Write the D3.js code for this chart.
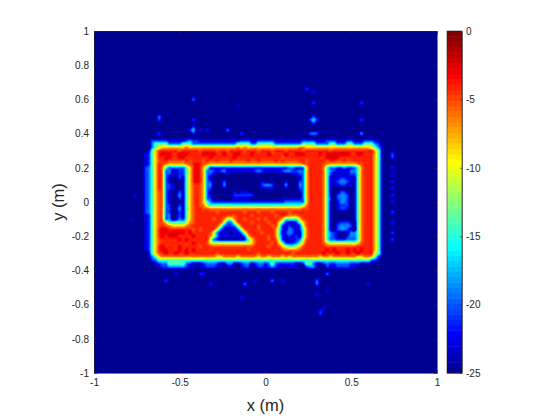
<!DOCTYPE html>
<html>
<head>
<meta charset="utf-8">
<script src="https://cdn.jsdelivr.net/npm/d3@7"></script>
<style>
    html, body { margin: 0; padding: 0; background: #fff; }
    text { font-family: "Liberation Sans", Arial, sans-serif; fill: #262626; }
</style>
</head>
<body>
<div class="plot"></div>
<script>
"use strict";

const xTicks = [-1, -0.5, 0, 0.5, 1];
const yTicks = [-1, -0.8, -0.6, -0.4, -0.2, 0, 0.2, 0.4, 0.6, 0.8, 1];
const barTicks = [0, -5, -10, -15, -20, -25];

// dB levels of the characters used in gridRows
const levelChars = [".", "1", "2", "3", "4", "5", "6", "7", "8", "9", "a"];
const levelDb = [-25, -23, -21, -19, -14, -11, -8.5, -6.5, -5.2, -4.2, -2.8];

// 0.02 m per char. first char x = -0.72, first row y = 0.36
const gridLeft = -0.72;
const gridTop = 0.36;
const gridRows = [
    "...2222211 1112322111 1111111112 2211222221 1111111222 2111222111 2211122211 ...",
    "...3444433 3344433333 3333333344 4433444443 3333333444 4333344333 4433344432 ...",
    "...3456666 6667666666 6666666676 7666666666 6666667766 6666666666 6666666543 1..",
    "..14689999 9899999899 9989989999 8999899989 9989999899 9999989999 9999999964 1..",
    ".12469aaa9 9aaa9999aa aa99a99aa9 99a9999a99 99a99aaa99 99a9aaaaaa a99aa99964 1..",
    ".124699aa9 9aa9999999 a999999a99 9999999999 9899999999 9999aaaa99 9999999964 1..",
    ".124689988 8889899989 8898889888 8988988889 8988889989 9999899889 8899999964 1..",
    ".124698766 666789a987 6666666666 6666666666 6666666789 9998766666 6667899964 1..",
    ".234697433 333469a964 2222222222 2222222222 2223322369 9997433223 2234799964 1..",
    ".234697331 122469a963 3212311111 1112321111 1233223369 9997432111 1334799964 1..",
    ".234697321 122469a963 21...1.... .......... ....112369 9997421111 1224799964 1..",
    ".23469731. .21469a963 1......... .......... ......1369 9997411122 1114799964 1..",
    ".23469731. ..1469a963 2...2..... .....1.... ..1...2369 9997411233 2114799964 1..",
    ".234697321 ..14689863 3...3..... .....2332. ..3...3369 9997411122 1114799964 1..",
    ".234697321 ..14689863 2...1..... .....1111. ..1...2369 999741.... ..14799964 1..",
    ".23468731. .214689863 1......1.1 11........ ......1369 999741..22 ..14799964 1..",
    ".23468731. 1314689863 1......222 222....... .......369 999741.233 2.14799964 1..",
    ".23468731. .214689863 2......111 11........ .111111369 999742.233 2.14799964 1..",
    ".23468731. ..14689864 3222222222 2222222222 2233333369 999741.133 2.14799964 1..",
    ".23468732. .214689875 4444444444 4444444444 4444444579 999741.122 2.14799964 1..",
    ".23468732. 1314689988 7777777777 7777777777 7777777889 999741.122 1.14799964 1..",
    ".23468732. .214689999 9989999999 8999899989 9998999999 999741.... ..14799964 1..",
    ".12468733. 1214689999 9999988899 9989999998 9987778999 999741.... ..14799964 1..",
    ".12468733. 1324689999 9899755799 8999898999 8644446899 999741.... ..14799964 1..",
    ".124688644 4445789999 9998533589 9989999899 6421124689 999741.122 21.4799964 1..",
    ".124689876 6667899999 9985322358 9999899988 5212112589 999741.233 32.4799964 1..",
    ".12469aa99 9999989899 9853111135 8999899997 4213212479 999741.233 21.4799964 1..",
    ".12469aaaa aaa9a99999 853111.113 5899989997 4123211479 99974321.. 1334799964 1..",
    ".12469a9aa a9999a9999 7531111111 3689999897 4212121479 99974321.. 2334799964 1..",
    ".124689999 9a9a999999 5321111111 2468999898 5211123589 9997433222 3334799964 1..",
    ".124689999 99999a9998 6555555555 5568999989 6422234699 9998655555 5556899964 1..",
    ".12469a999 9a99999899 8888888888 8889999899 8654456899 9999888888 8889999964 1..",
    ".12469aa99 9a9a9a9999 9999999999 9899999999 9877778999 9999a9a999 a9a9a99964 1..",
    "..14689a99 a99a999999 9989999999 9999899999 9999899999 999a999a99 a99a999954 1..",
    "..13467777 7777777777 7766777767 7777677677 7676777777 7767767777 7776677642 ...",
    "...2344444 4444444444 4444444444 4444444444 4444444444 4444444444 4444444321 ...",
    "....123344 4443211123 3321133112 3312332343 2222211244 3112322333 3222111... ...",
    ".....12233 333211.112 2211.11..1 22.1221232 111111..23 31..211222 211....... ..."
];

// isolated spots outside the main block
const speckX = [-0.427, -0.625, -0.625, -0.625, -0.411, -0.415, -0.44, -0.39, -0.415, -0.415, -0.341, -0.226, -0.139, -0.16, 0.279, 0.26, 0.3, 0.279, 0.279, 0.279, 0.279, 0.26, 0.3, 0.248, 0.23, 0.27, 0.569, 0.569, 0.569, 0.74, 0.74, 0.74, 0.74, 0.74, 0.74, 0.74, 0.74, 0.74, 0.74, 0.74, 0.74, -0.382, -0.36, -0.518, -0.576, -0.314, -0.129, -0.139, 0.045, 0.1, -0.06, 0.357, 0.294, 0.294, 0.307, 0.357, 0.6, 0.328, 0.31, 0.33, -0.77, -0.78];
const speckY = [0.592, 0.5, 0.48, 0.41, 0.49, 0.421, 0.421, 0.421, 0.44, 0.4, 0.421, 0.411, 0.4, 0.567, 0.49, 0.49, 0.49, 0.51, 0.47, 0.573, 0.405, 0.405, 0.405, 0.657, 0.66, 0.65, 0.579, 0.485, 0.405, 0.28, 0.26, 0.2, 0.16, 0.12, 0.08, 0.04, 0, -0.06, -0.12, -0.18, -0.22, -0.417, -0.417, -0.427, -0.456, -0.485, -0.471, -0.554, -0.456, -0.456, -0.456, -0.417, -0.456, -0.48, -0.544, -0.515, -0.471, -0.632, -0.65, -0.61, 0.04, -0.1];
const speckDb = [-20, -20, -21, -21, -21, -17.5, -22, -22, -21.5, -21.5, -22, -20, -21, -23, -17, -21, -21, -21, -21, -21, -19, -20.5, -20.5, -21, -22, -22, -21, -21, -19, -20.5, -21, -21.5, -22, -21.5, -22, -21.5, -22, -21, -21.5, -21, -21, -21.5, -22, -22.5, -21, -22, -20, -22, -20, -22, -23, -20, -20, -20, -22, -23, -22.5, -21, -22, -22, -23, -23.5];

const plotBox = { left: 94, top: 31, width: 343, height: 342 };
const barBox = { left: 447, top: 31, width: 15, height: 342 };

const x = d3.scaleLinear().domain([-1, 1]).range([plotBox.left, plotBox.left + plotBox.width]);
const y = d3.scaleLinear().domain([-1, 1]).range([plotBox.top + plotBox.height, plotBox.top]);
const barY = d3.scaleLinear().domain([-25, 0]).range([barBox.top + barBox.height, barBox.top]);

// matlab jet(64)
const jetRamp = d3.scaleLinear()
    .domain([0, 7, 23, 39, 55, 63])
    .range(["#000090", "#0000ff", "#00ffff", "#ffff00", "#ff0000", "#800000"]);
const jetColors = d3.range(64).map(i => jetRamp(i));
const color = d3.scaleQuantize().domain([-25, 0]).range(jetColors);

// whole plot on the same 0.02 grid, the typed rows and specks go in it
const gridSize = 101;
const toCol = d3.scaleLinear().domain([-1, 1]).range([0, gridSize - 1]);
const toRow = d3.scaleLinear().domain([1, -1]).range([0, gridSize - 1]);
const dbOf = new Map(levelChars.map((c, i) => [c, levelDb[i]]));
const grid = d3.range(gridSize).map(() => new Array(gridSize).fill(-25));

gridRows.forEach((row, r) => {
    row.replace(/ /g, "").split("").forEach((ch, c) => {
        grid[Math.round(toRow(gridTop)) + r][Math.round(toCol(gridLeft)) + c] = dbOf.get(ch);
    });
});
speckX.forEach((sx, i) => {
    const r = Math.round(toRow(speckY[i]));
    const c = Math.round(toCol(sx));
    grid[r][c] = Math.max(grid[r][c], speckDb[i]);
});

const cubic = (a, b, c, d, t) =>
    b + 0.5 * t * (c - a + t * (2 * a - 5 * b + 4 * c - d + t * (3 * (b - c) + d - a)));
const at = (r, c) => grid[Math.max(0, Math.min(gridSize - 1, r))][Math.max(0, Math.min(gridSize - 1, c))];

function sample(row, col) {
    const r0 = Math.floor(row), c0 = Math.floor(col);
    const tr = row - r0, tc = col - c0;
    const vals = [-1, 0, 1, 2].map(dr =>
        cubic(at(r0 + dr, c0 - 1), at(r0 + dr, c0), at(r0 + dr, c0 + 1), at(r0 + dr, c0 + 2), tc));
    return cubic(vals[0], vals[1], vals[2], vals[3], tr);
}

// paint the field to an offscreen canvas, goes in the svg as an image
const canvas = document.createElement("canvas");
canvas.width = plotBox.width;
canvas.height = plotBox.height;
const ctx = canvas.getContext("2d");
const img = ctx.createImageData(plotBox.width, plotBox.height);
for (let py = 0; py < plotBox.height; py++) {
    for (let px = 0; px < plotBox.width; px++) {
        const v = sample(toRow(y.invert(plotBox.top + py + 0.5)), toCol(x.invert(plotBox.left + px + 0.5)));
        const rgb = d3.rgb(color(Math.max(-25, Math.min(-0.01, v))));
        const k = (py * plotBox.width + px) * 4;
        img.data[k] = rgb.r;
        img.data[k + 1] = rgb.g;
        img.data[k + 2] = rgb.b;
        img.data[k + 3] = 255;
    }
}
ctx.putImageData(img, 0, 0);

const svg = d3.select(".plot")
    .append("svg")
    .attr("width", 560)
    .attr("height", 420)
    .style("display", "block");

svg.append("image")
    .attr("x", plotBox.left)
    .attr("y", plotBox.top)
    .attr("width", plotBox.width)
    .attr("height", plotBox.height)
    .attr("href", canvas.toDataURL());

const styleAxis = g => {
    g.selectAll("path").attr("stroke", "#262626").attr("stroke-width", 0.6);
    g.selectAll("line").attr("stroke", "#262626").attr("stroke-width", 0.6);
    g.selectAll("text").attr("font-size", 10).attr("fill", "#262626");
};

svg.append("g")
    .attr("transform", `translate(0,${plotBox.top + plotBox.height})`)
    .call(d3.axisBottom(x).tickValues(xTicks).tickFormat(String).tickSizeInner(-3.4).tickSizeOuter(0).tickPadding(6))
    .call(styleAxis);

svg.append("g")
    .attr("transform", `translate(${plotBox.left},0)`)
    .call(d3.axisLeft(y).tickValues(yTicks).tickFormat(String).tickSizeInner(-3.4).tickSizeOuter(0).tickPadding(5))
    .call(styleAxis);

// top and right sides of the box
svg.append("g")
    .attr("transform", `translate(0,${plotBox.top})`)
    .call(d3.axisTop(x).tickValues(xTicks).tickFormat("").tickSizeInner(-3.4).tickSizeOuter(0))
    .call(styleAxis);
svg.append("g")
    .attr("transform", `translate(${plotBox.left + plotBox.width},0)`)
    .call(d3.axisRight(y).tickValues(yTicks).tickFormat("").tickSizeInner(-3.4).tickSizeOuter(0))
    .call(styleAxis);

svg.append("text")
    .attr("x", x(0))
    .attr("y", 411)
    .attr("text-anchor", "middle")
    .attr("font-size", 16.5)
    .text("x (m)");

svg.append("text")
    .attr("transform", `translate(64,${y(0)}) rotate(-90)`)
    .attr("text-anchor", "middle")
    .attr("font-size", 16.5)
    .text("y (m)");

// colorbar
const barStep = 25 / jetColors.length;
svg.append("g")
    .selectAll("rect")
    .data(jetColors)
    .join("rect")
    .attr("x", barBox.left)
    .attr("y", (d, i) => barY(-25 + (i + 1) * barStep))
    .attr("width", barBox.width)
    .attr("height", (d, i) => barY(-25 + i * barStep) - barY(-25 + (i + 1) * barStep) + 0.5)
    .attr("fill", d => d);

svg.append("g")
    .attr("transform", `translate(${barBox.left + barBox.width},0)`)
    .call(d3.axisRight(barY).tickValues(barTicks).tickFormat(String).tickSizeInner(-2).tickSizeOuter(0).tickPadding(4))
    .call(styleAxis);

svg.append("rect")
    .attr("x", barBox.left)
    .attr("y", barBox.top)
    .attr("width", barBox.width)
    .attr("height", barBox.height)
    .attr("fill", "none")
    .attr("stroke", "#262626")
    .attr("stroke-width", 0.6);
</script>
</body>
</html>
